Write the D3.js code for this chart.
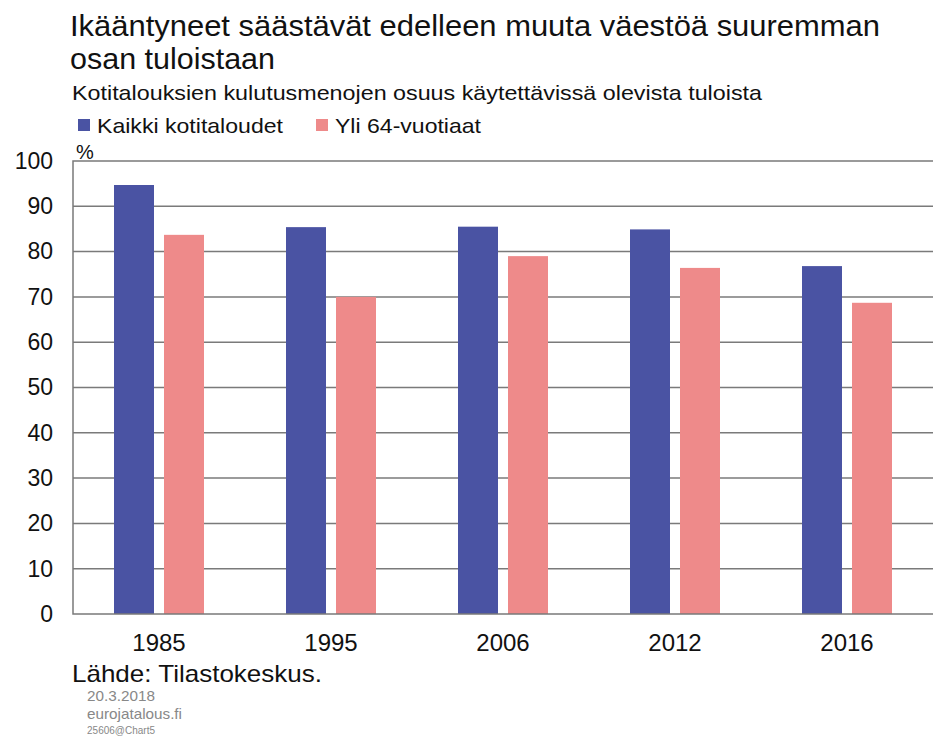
<!DOCTYPE html>
<html>
<head>
<meta charset="utf-8">
<script src="https://cdn.jsdelivr.net/npm/d3@7"></script>
<style>
  body { margin: 0; background: #fff; }
  svg { display: block; font-family: "Liberation Sans", Arial, sans-serif; }
</style>
</head>
<body>
<div id="chart"></div>
<script>
// chart data
var years = ["1985", "1995", "2006", "2012", "2016"];
var seriesNames = ["Kaikki kotitaloudet", "Yli 64-vuotiaat"];
var allHouseholds = [94.7, 85.4, 85.5, 84.9, 76.8];
var over64 = [83.7, 70.0, 79.0, 76.4, 68.7];
var yTicks = [0, 10, 20, 30, 40, 50, 60, 70, 80, 90, 100];
var colors = ["#4a53a3", "#ee8a8a"];

var W = 933, H = 738;
var plotL = 73, plotR = 933, plotT = 161, plotB = 614;

var svg = d3.select("#chart").append("svg")
    .attr("width", W).attr("height", H);

function label(x0, y0, size, txt, len, fill) {
    var t = svg.append("text").attr("x", x0).attr("y", y0)
        .attr("font-size", size).attr("fill", fill || "#111").text(txt);
    if (len) t.attr("textLength", len).attr("lengthAdjust", "spacingAndGlyphs");
    return t;
}

// titles
label(70, 36, 30, "Ikääntyneet säästävät edelleen muuta väestöä suuremman", 810);
label(70, 69, 30, "osan tuloistaan", 205);
label(72, 100, 21, "Kotitalouksien kulutusmenojen osuus käytettävissä olevista tuloista", 690);

// legend
var legendX = [78, 316];
var legendLen = [186, 146];
seriesNames.forEach(function(name, i) {
    svg.append("rect").attr("x", legendX[i]).attr("y", 119)
        .attr("width", 12).attr("height", 12).attr("fill", colors[i]);
    label(legendX[i] + 19, 133, 21, name, legendLen[i]);
});

var x = d3.scaleBand().domain(years).range([plotL, plotR]);
var y = d3.scaleLinear().domain([0, 100]).range([plotB, plotT]);

// gridlines
svg.append("g").selectAll("line").data(yTicks.filter(function(d) { return d > 0 && d < 100; }))
    .join("line")
    .attr("x1", plotL).attr("x2", plotR)
    .attr("y1", function(d) { return y(d); }).attr("y2", function(d) { return y(d); })
    .attr("stroke", "#7a7a7a").attr("stroke-width", 1.5);

// bars
var barW = 40, gap = 10;
[allHouseholds, over64].forEach(function(vals, s) {
    svg.append("g").selectAll("rect").data(vals).join("rect")
        .attr("x", function(d, i) {
            var c = x(years[i]) + x.bandwidth() / 2;
            return s === 0 ? c - gap / 2 - barW : c + gap / 2;
        })
        .attr("y", function(d) { return y(d); })
        .attr("width", barW)
        .attr("height", function(d) { return y(0) - y(d); })
        .attr("fill", colors[s]);
});

// plot frame
svg.append("path")
    .attr("d", "M" + plotR + "," + plotT + "H" + plotL + "V" + plotB + "H" + plotR)
    .attr("fill", "none").attr("stroke", "#7a7a7a").attr("stroke-width", 1.5);

// y axis labels
var yAxis = d3.axisLeft(y).tickValues(yTicks).tickSize(0).tickPadding(20);
var gy = svg.append("g").attr("transform", "translate(" + plotL + ",0)").call(yAxis);
gy.select(".domain").remove();
gy.selectAll("text").attr("font-size", 23).attr("fill", "#111")
    .attr("font-family", "Liberation Sans, Arial, sans-serif");

label(76, 159, 20, "%");

// x axis labels
var xAxis = d3.axisBottom(x).tickSize(0).tickPadding(20);
var gx = svg.append("g").attr("transform", "translate(0," + plotB + ")").call(xAxis);
gx.select(".domain").remove();
gx.selectAll("text").attr("font-size", 24).attr("fill", "#111")
    .attr("font-family", "Liberation Sans, Arial, sans-serif");

// source & footer
label(72, 682, 24, "Lähde: Tilastokeskus.", 250);
label(87, 701, 14.5, "20.3.2018", 68, "#888");
label(87, 719, 14.5, "eurojatalous.fi", 95, "#888");
label(87, 734, 10, "25606@Chart5", 68, "#888");
</script>
</body>
</html>
